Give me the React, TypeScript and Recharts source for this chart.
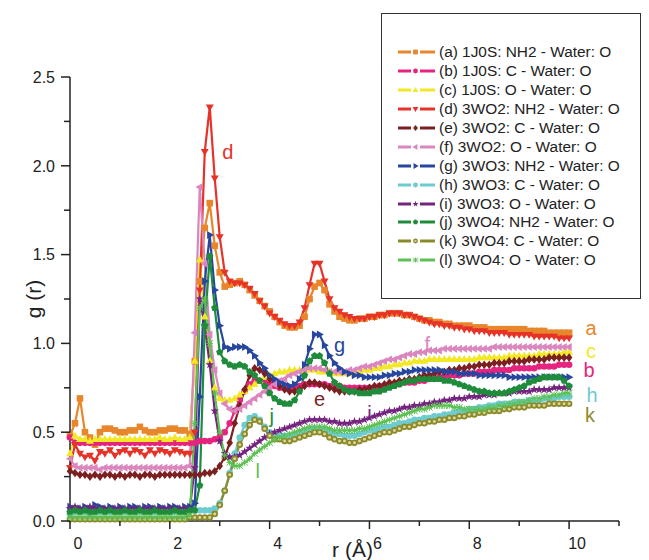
import React from "react";
import {
  Legend,
  Line,
  LineChart,
  ReferenceDot,
  XAxis,
  YAxis,
} from "recharts";

const FONT = '"Liberation Sans", Arial, sans-serif';
const INK = "#222";

// r grid, 0.0 .. 10.0 Å in 0.1 steps
const rValues = Array.from({ length: 101 }, (_, i) => Math.round(i) / 10);

const xTicks = [0, 1, 2, 3, 4, 5, 6, 7, 8, 9, 10, 11];
const yTicks = [0, 0.25, 0.5, 0.75, 1, 1.25, 1.5, 1.75, 2, 2.25, 2.5];

const a_1J0S_NH2 = [
  0.48, 0.55, 0.69, 0.5, 0.47, 0.43, 0.5, 0.52, 0.52, 0.51,
  0.5, 0.5, 0.51, 0.51, 0.53, 0.51, 0.5, 0.5, 0.51, 0.51,
  0.52, 0.52, 0.51, 0.51, 0.49, 0.9, 1.35, 1.65, 1.79, 1.55,
  1.4, 1.32, 1.33, 1.34, 1.35, 1.33, 1.3, 1.27, 1.24, 1.21,
  1.18, 1.15, 1.12, 1.1, 1.09, 1.09, 1.1, 1.15, 1.25, 1.32,
  1.34, 1.3, 1.22, 1.18, 1.15, 1.14, 1.13, 1.13, 1.14, 1.14,
  1.15, 1.15, 1.16, 1.16, 1.17, 1.17, 1.17, 1.16, 1.16, 1.15,
  1.14, 1.13, 1.13, 1.12, 1.12, 1.11, 1.11, 1.1, 1.1, 1.1,
  1.1, 1.09, 1.09, 1.09, 1.08, 1.08, 1.08, 1.08, 1.08, 1.08,
  1.08, 1.08, 1.07, 1.07, 1.07, 1.07, 1.06, 1.06, 1.06, 1.06, 1.06,
];
const b_1J0S_C = [
  0.47, 0.44, 0.44, 0.44, 0.44, 0.44, 0.44, 0.44, 0.44, 0.44,
  0.44, 0.44, 0.44, 0.44, 0.44, 0.44, 0.44, 0.44, 0.44, 0.44,
  0.44, 0.44, 0.44, 0.44, 0.44, 0.44, 0.45, 0.45, 0.45, 0.46,
  0.47, 0.5, 0.55, 0.62, 0.68, 0.73, 0.77, 0.79, 0.79, 0.78,
  0.77, 0.76, 0.75, 0.75, 0.75, 0.75, 0.76, 0.77, 0.77, 0.77,
  0.77, 0.77, 0.76, 0.76, 0.76, 0.75, 0.75, 0.75, 0.75, 0.75,
  0.75, 0.75, 0.76, 0.76, 0.76, 0.77, 0.77, 0.78, 0.78, 0.78,
  0.79, 0.79, 0.8, 0.8, 0.81, 0.81, 0.82, 0.82, 0.82, 0.83,
  0.83, 0.83, 0.84, 0.84, 0.84, 0.85, 0.85, 0.85, 0.85, 0.86,
  0.86, 0.86, 0.86, 0.86, 0.87, 0.87, 0.87, 0.87, 0.88, 0.88, 0.88,
];
const c_1J0S_O = [
  0.38, 0.48, 0.46, 0.46, 0.45, 0.46, 0.46, 0.46, 0.46, 0.46,
  0.46, 0.46, 0.46, 0.46, 0.46, 0.46, 0.46, 0.46, 0.47, 0.46,
  0.46, 0.47, 0.46, 0.46, 0.47, 0.9, 1.47, 1.15, 0.9, 0.75,
  0.69, 0.68, 0.68, 0.69, 0.71, 0.73, 0.75, 0.77, 0.79, 0.81,
  0.82, 0.83, 0.84, 0.84, 0.85, 0.85, 0.85, 0.85, 0.85, 0.85,
  0.84, 0.84, 0.84, 0.83, 0.83, 0.83, 0.83, 0.84, 0.84, 0.85,
  0.85, 0.86, 0.86, 0.87, 0.87, 0.88, 0.88, 0.89, 0.89, 0.9,
  0.9, 0.9, 0.91, 0.91, 0.91, 0.91, 0.91, 0.91, 0.91, 0.91,
  0.91, 0.91, 0.92, 0.92, 0.92, 0.92, 0.92, 0.92, 0.93, 0.93,
  0.93, 0.93, 0.93, 0.93, 0.94, 0.94, 0.94, 0.94, 0.94, 0.95, 0.95,
];
const d_3WO2_NH2 = [
  0.3, 0.43, 0.38, 0.36, 0.37, 0.34, 0.39, 0.38, 0.4, 0.37,
  0.39, 0.4, 0.38, 0.4, 0.39, 0.37, 0.4, 0.38, 0.4, 0.39,
  0.38, 0.4, 0.39, 0.38, 0.38, 0.5, 1.3, 2.08, 2.33, 1.93,
  1.6, 1.4, 1.35, 1.34, 1.34, 1.33, 1.31, 1.28, 1.24, 1.21,
  1.17, 1.15, 1.13, 1.11, 1.1, 1.1, 1.12, 1.2, 1.33, 1.45,
  1.45, 1.35, 1.25, 1.2, 1.18, 1.16, 1.15, 1.14, 1.14, 1.14,
  1.15, 1.15, 1.16, 1.16, 1.17, 1.17, 1.17, 1.16, 1.16, 1.15,
  1.14, 1.13, 1.12, 1.11, 1.11, 1.1, 1.1, 1.09, 1.09, 1.08,
  1.08, 1.07, 1.07, 1.07, 1.06, 1.06, 1.06, 1.06, 1.05, 1.05,
  1.05, 1.05, 1.05, 1.04, 1.04, 1.04, 1.04, 1.04, 1.03, 1.03, 1.03,
];
const e_3WO2_C = [
  0.28, 0.27, 0.26, 0.26, 0.25, 0.26, 0.25, 0.26, 0.26, 0.25,
  0.26, 0.25, 0.26, 0.26, 0.25, 0.26, 0.26, 0.25, 0.26, 0.26,
  0.26, 0.26, 0.26, 0.26, 0.26, 0.26, 0.26, 0.27, 0.27, 0.28,
  0.31, 0.36, 0.44, 0.55, 0.65, 0.74, 0.82, 0.86, 0.85, 0.83,
  0.8, 0.78, 0.76, 0.74, 0.73, 0.73, 0.74, 0.76, 0.78, 0.78,
  0.77, 0.76, 0.75, 0.74, 0.73, 0.73, 0.73, 0.73, 0.74, 0.74,
  0.75, 0.76, 0.76, 0.77, 0.78, 0.78, 0.79, 0.79, 0.8, 0.8,
  0.81, 0.82, 0.82, 0.83, 0.84, 0.84, 0.85, 0.85, 0.86, 0.86,
  0.87, 0.87, 0.88, 0.88, 0.88, 0.89, 0.89, 0.89, 0.9, 0.9,
  0.9, 0.9, 0.91, 0.91, 0.91, 0.91, 0.92, 0.92, 0.92, 0.92, 0.92,
];
const f_3WO2_O = [
  0.35, 0.31, 0.3, 0.3, 0.3, 0.3, 0.29, 0.3, 0.3, 0.3,
  0.3, 0.3, 0.3, 0.3, 0.3, 0.3, 0.3, 0.3, 0.3, 0.3,
  0.3, 0.3, 0.3, 0.3, 0.31, 1.06, 1.88, 1.45, 1.05, 0.85,
  0.72, 0.66, 0.63, 0.62, 0.63, 0.65, 0.67, 0.69, 0.71, 0.73,
  0.75, 0.77, 0.79, 0.8, 0.82, 0.83, 0.84, 0.85, 0.86, 0.86,
  0.86, 0.85, 0.84, 0.84, 0.84, 0.84, 0.85, 0.85, 0.86, 0.87,
  0.87, 0.88, 0.89, 0.9, 0.91, 0.91, 0.92, 0.93, 0.94, 0.94,
  0.95, 0.95, 0.96, 0.96, 0.96, 0.97, 0.97, 0.97, 0.97, 0.97,
  0.97, 0.97, 0.97, 0.97, 0.97, 0.98, 0.98, 0.98, 0.98, 0.98,
  0.98, 0.98, 0.98, 0.98, 0.98, 0.98, 0.98, 0.98, 0.98, 0.98, 0.98,
];
const g_3WO3_NH2 = [
  0.08, 0.07, 0.07, 0.08, 0.07, 0.09, 0.08, 0.07, 0.08, 0.07,
  0.08, 0.07, 0.08, 0.08, 0.07, 0.08, 0.08, 0.07, 0.08, 0.07,
  0.08, 0.08, 0.07, 0.08, 0.08, 0.1, 0.7, 1.35, 1.61, 1.3,
  1.1, 0.98, 0.97, 0.98, 0.98, 0.98, 0.96, 0.93, 0.89, 0.86,
  0.82, 0.8, 0.78, 0.77, 0.76, 0.77, 0.8, 0.88, 0.97, 1.05,
  1.05, 0.99, 0.93, 0.89, 0.86, 0.84, 0.83, 0.82, 0.82, 0.81,
  0.81, 0.81, 0.81, 0.82, 0.82, 0.83, 0.83, 0.84, 0.84, 0.85,
  0.85, 0.85, 0.85, 0.85, 0.85, 0.84, 0.84, 0.84, 0.83, 0.83,
  0.83, 0.83, 0.82, 0.82, 0.82, 0.82, 0.82, 0.82, 0.81, 0.81,
  0.81, 0.81, 0.81, 0.81, 0.81, 0.81, 0.81, 0.81, 0.81, 0.81, 0.81,
];
const h_3WO3_C = [
  0.04, 0.05, 0.06, 0.05, 0.04, 0.05, 0.05, 0.05, 0.05, 0.05,
  0.05, 0.05, 0.05, 0.05, 0.05, 0.05, 0.05, 0.05, 0.05, 0.05,
  0.05, 0.05, 0.05, 0.05, 0.06, 0.06, 0.06, 0.06, 0.06, 0.07,
  0.1, 0.17, 0.27, 0.38, 0.47, 0.54, 0.58, 0.59, 0.57, 0.53,
  0.5, 0.49, 0.48, 0.48, 0.48, 0.48, 0.49, 0.5, 0.51, 0.52,
  0.52, 0.51, 0.5, 0.49, 0.49, 0.48, 0.48, 0.48, 0.49, 0.5,
  0.51, 0.51, 0.52, 0.53, 0.53, 0.54, 0.55, 0.55, 0.56, 0.57,
  0.57, 0.58, 0.58, 0.59, 0.59, 0.6, 0.6, 0.61, 0.62, 0.62,
  0.63, 0.63, 0.64, 0.64, 0.65, 0.65, 0.66, 0.66, 0.66, 0.67,
  0.67, 0.67, 0.68, 0.68, 0.68, 0.69, 0.69, 0.69, 0.7, 0.7, 0.7,
];
const i_3WO3_O = [
  0.07, 0.08, 0.07, 0.07, 0.08, 0.07, 0.07, 0.07, 0.07, 0.07,
  0.07, 0.07, 0.07, 0.07, 0.07, 0.07, 0.07, 0.07, 0.07, 0.07,
  0.07, 0.07, 0.07, 0.07, 0.07, 0.3, 1.25, 1.1, 0.88, 0.62,
  0.45, 0.38, 0.36, 0.36, 0.37, 0.39, 0.41, 0.43, 0.45, 0.47,
  0.49, 0.5, 0.51, 0.52, 0.53, 0.54, 0.55, 0.56, 0.57, 0.57,
  0.57, 0.57, 0.56, 0.56, 0.55, 0.55, 0.55, 0.56, 0.56, 0.57,
  0.58, 0.59, 0.6, 0.61, 0.62, 0.62, 0.63, 0.64, 0.64, 0.65,
  0.65, 0.66, 0.66, 0.67, 0.67, 0.68, 0.68, 0.69, 0.69, 0.69,
  0.7, 0.7, 0.7, 0.71, 0.71, 0.71, 0.72, 0.72, 0.72, 0.73,
  0.73, 0.73, 0.73, 0.74, 0.74, 0.74, 0.74, 0.75, 0.75, 0.75, 0.75,
];
const j_3WO4_NH2 = [
  0.05, 0.06, 0.05, 0.06, 0.05, 0.05, 0.06, 0.05, 0.06, 0.05,
  0.05, 0.06, 0.05, 0.05, 0.06, 0.05, 0.05, 0.06, 0.05, 0.05,
  0.05, 0.06, 0.05, 0.05, 0.06, 0.06, 0.2, 1.1, 1.49, 1.2,
  0.95, 0.9, 0.88, 0.87, 0.88, 0.87, 0.84, 0.82, 0.79, 0.76,
  0.72, 0.69, 0.67, 0.66, 0.66, 0.68, 0.73, 0.82, 0.9, 0.93,
  0.93, 0.89, 0.83, 0.78, 0.76, 0.74, 0.73, 0.73, 0.72, 0.72,
  0.72, 0.73, 0.73, 0.74, 0.75, 0.76, 0.77, 0.78, 0.79, 0.79,
  0.8, 0.8, 0.8, 0.8, 0.8, 0.79, 0.79, 0.78, 0.77, 0.76,
  0.75, 0.74, 0.73, 0.73, 0.72, 0.72, 0.72, 0.72, 0.73, 0.74,
  0.75, 0.76, 0.78, 0.79, 0.8, 0.81, 0.81, 0.81, 0.81, 0.79, 0.76,
];
const k_3WO4_C = [
  0.01, 0.01, 0.01, 0.01, 0.01, 0.01, 0.01, 0.01, 0.01, 0.01,
  0.01, 0.01, 0.01, 0.01, 0.01, 0.01, 0.01, 0.01, 0.01, 0.01,
  0.01, 0.01, 0.01, 0.01, 0.02, 0.02, 0.02, 0.02, 0.02, 0.04,
  0.09, 0.17, 0.26, 0.35, 0.43, 0.49, 0.54, 0.57, 0.56, 0.52,
  0.48, 0.46, 0.46, 0.45, 0.45, 0.46, 0.47, 0.48, 0.49, 0.5,
  0.5, 0.49, 0.47, 0.46, 0.45, 0.45, 0.44, 0.44, 0.45, 0.46,
  0.47, 0.48, 0.49, 0.5, 0.5, 0.51, 0.52, 0.53, 0.53, 0.54,
  0.55, 0.55, 0.56, 0.56, 0.57, 0.57, 0.58, 0.58, 0.59, 0.59,
  0.6, 0.6, 0.61, 0.61, 0.62, 0.62, 0.62, 0.63, 0.63, 0.64,
  0.64, 0.64, 0.65, 0.65, 0.65, 0.65, 0.66, 0.66, 0.66, 0.66, 0.66,
];
const l_3WO4_O = [
  0.02, 0.02, 0.02, 0.02, 0.02, 0.02, 0.02, 0.02, 0.02, 0.02,
  0.02, 0.02, 0.02, 0.02, 0.02, 0.02, 0.02, 0.02, 0.02, 0.02,
  0.02, 0.02, 0.02, 0.02, 0.03, 0.55, 1.2, 1.25, 1.0, 0.72,
  0.5, 0.37, 0.33, 0.31, 0.31, 0.33, 0.35, 0.38, 0.4, 0.42,
  0.44, 0.46, 0.47, 0.48, 0.49, 0.5, 0.51, 0.52, 0.53, 0.53,
  0.53, 0.53, 0.52, 0.51, 0.51, 0.51, 0.51, 0.51, 0.52, 0.52,
  0.53, 0.54, 0.55, 0.56, 0.57, 0.58, 0.59, 0.6, 0.61, 0.62,
  0.63, 0.63, 0.64, 0.65, 0.65, 0.65, 0.65, 0.64, 0.64, 0.63,
  0.63, 0.63, 0.63, 0.63, 0.64, 0.64, 0.65, 0.65, 0.66, 0.66,
  0.67, 0.67, 0.68, 0.69, 0.69, 0.7, 0.7, 0.71, 0.71, 0.72, 0.72,
];

type Shape =
  | "square" | "circle" | "up" | "down" | "diamond" | "left"
  | "right" | "star" | "pentagon" | "ring" | "asterisk";

const SERIES: { id: string; name: string; color: string; shape: Shape; values: number[] }[] = [
  { id: "a", name: "(a) 1J0S: NH2 - Water: O", color: "#e8862b", shape: "square", values: a_1J0S_NH2 },
  { id: "b", name: "(b) 1J0S: C - Water: O", color: "#e6237e", shape: "circle", values: b_1J0S_C },
  { id: "c", name: "(c) 1J0S: O - Water: O", color: "#f2e826", shape: "up", values: c_1J0S_O },
  { id: "d", name: "(d) 3WO2: NH2 - Water: O", color: "#e63228", shape: "down", values: d_3WO2_NH2 },
  { id: "e", name: "(e) 3WO2: C - Water: O", color: "#7b1f20", shape: "diamond", values: e_3WO2_C },
  { id: "f", name: "(f) 3WO2: O - Water: O", color: "#db86be", shape: "left", values: f_3WO2_O },
  { id: "g", name: "(g) 3WO3: NH2 - Water: O", color: "#27479e", shape: "right", values: g_3WO3_NH2 },
  { id: "h", name: "(h) 3WO3: C - Water: O", color: "#6dccd0", shape: "circle", values: h_3WO3_C },
  { id: "i", name: "(i) 3WO3: O - Water: O", color: "#74237f", shape: "star", values: i_3WO3_O },
  { id: "j", name: "(j) 3WO4: NH2 - Water: O", color: "#1e8c3a", shape: "pentagon", values: j_3WO4_NH2 },
  { id: "k", name: "(k) 3WO4: C - Water: O", color: "#8c8a2a", shape: "ring", values: k_3WO4_C },
  { id: "l", name: "(l) 3WO4: O - Water: O", color: "#5dc153", shape: "asterisk", values: l_3WO4_O },
];

// curve labels placed in data coordinates
const ANNOTATIONS = [
  { text: "d", r: 3.16, g: 2.08, color: "#e63228" },
  { text: "g", r: 5.4, g: 0.99, color: "#27479e" },
  { text: "f", r: 7.16, g: 1.0, color: "#db86be" },
  { text: "e", r: 5.0, g: 0.69, color: "#7b1f20" },
  { text: "i", r: 6.0, g: 0.61, color: "#74237f" },
  { text: "j", r: 4.04, g: 0.59, color: "#1e8c3a" },
  { text: "l", r: 3.76, g: 0.28, color: "#5dc153" },
  { text: "a", r: 10.44, g: 1.09, color: "#e8862b" },
  { text: "c", r: 10.44, g: 0.96, color: "#f2e826" },
  { text: "b", r: 10.4, g: 0.85, color: "#e6237e" },
  { text: "h", r: 10.46, g: 0.71, color: "#6dccd0" },
  { text: "k", r: 10.42, g: 0.6, color: "#8c8a2a" },
];

const data = rValues.map((r, i) => {
  const row: Record<string, number> = { r };
  SERIES.forEach((s) => {
    row[s.id] = s.values[i];
  });
  return row;
});

function pts(list: number[][]) {
  return list.map((p) => p.join(",")).join(" ");
}

function Marker({ cx, cy, shape, color, s = 3.3 }: { cx?: number; cy?: number; shape: Shape; color: string; s?: number }) {
  if (cx == null || cy == null || isNaN(cx) || isNaN(cy)) return null;
  switch (shape) {
    case "square":
      return <rect x={cx - s} y={cy - s} width={2 * s} height={2 * s} fill={color} />;
    case "circle":
      return <circle cx={cx} cy={cy} r={s} fill={color} />;
    case "up":
      return <polygon points={pts([[cx, cy - s * 1.3], [cx + s * 1.2, cy + s * 0.8], [cx - s * 1.2, cy + s * 0.8]])} fill={color} />;
    case "down":
      return <polygon points={pts([[cx, cy + s * 1.3], [cx + s * 1.2, cy - s * 0.8], [cx - s * 1.2, cy - s * 0.8]])} fill={color} />;
    case "left":
      return <polygon points={pts([[cx - s * 1.3, cy], [cx + s * 0.8, cy - s * 1.2], [cx + s * 0.8, cy + s * 1.2]])} fill={color} />;
    case "right":
      return <polygon points={pts([[cx + s * 1.3, cy], [cx - s * 0.8, cy - s * 1.2], [cx - s * 0.8, cy + s * 1.2]])} fill={color} />;
    case "diamond":
      return <polygon points={pts([[cx, cy - s * 1.3], [cx + s, cy], [cx, cy + s * 1.3], [cx - s, cy]])} fill={color} />;
    case "star": {
      const p: number[][] = [];
      for (let k = 0; k < 10; k++) {
        const rad = k % 2 === 0 ? s * 1.35 : s * 0.55;
        const ang = -Math.PI / 2 + (k * Math.PI) / 5;
        p.push([cx + rad * Math.cos(ang), cy + rad * Math.sin(ang)]);
      }
      return <polygon points={pts(p)} fill={color} />;
    }
    case "pentagon": {
      const p: number[][] = [];
      for (let k = 0; k < 5; k++) {
        const ang = -Math.PI / 2 + (k * 2 * Math.PI) / 5;
        p.push([cx + s * 1.15 * Math.cos(ang), cy + s * 1.15 * Math.sin(ang)]);
      }
      return <polygon points={pts(p)} fill={color} />;
    }
    case "ring":
      return (
        <g>
          <circle cx={cx} cy={cy} r={s} fill={color} />
          <circle cx={cx} cy={cy} r={s * 0.45} fill="#d9d79a" />
        </g>
      );
    case "asterisk":
      return (
        <g stroke={color} strokeWidth={1}>
          <line x1={cx - s} y1={cy - s} x2={cx + s} y2={cy + s} />
          <line x1={cx - s} y1={cy + s} x2={cx + s} y2={cy - s} />
          <line x1={cx - s} y1={cy} x2={cx + s} y2={cy} />
          <line x1={cx} y1={cy - s} x2={cx} y2={cy + s} />
        </g>
      );
  }
  return null;
}

function YTick({ x, y, payload }: any) {
  const v = payload.value as number;
  const major = Math.abs(v * 2 - Math.round(v * 2)) < 1e-6;
  return (
    <g>
      <line x1={x - (major ? 9 : 6)} x2={x} y1={y} y2={y} stroke={INK} strokeWidth={1.5} />
      {major && (
        <text x={x - 15} y={y} dy="0.36em" textAnchor="end" fontSize={16} fill={INK} fontFamily={FONT}>
          {v.toFixed(1)}
        </text>
      )}
    </g>
  );
}

function XTick({ x, y, payload }: any) {
  const v = payload.value as number;
  const major = v % 2 === 0;
  return (
    <g>
      <line x1={x} x2={x} y1={y} y2={y + (major ? 8 : 5)} stroke={INK} strokeWidth={1.5} />
      {major && v <= 10 && (
        <text x={x + 8} y={y + 22} dy="0.36em" textAnchor="middle" fontSize={16} fill={INK} fontFamily={FONT}>
          {v}
        </text>
      )}
    </g>
  );
}

function LegendBox() {
  return (
    <div
      style={{
        width: "100%",
        height: "100%",
        boxSizing: "border-box",
        border: "1.5px solid #333",
        background: "#fff",
        paddingTop: 29,
        fontFamily: FONT,
      }}
    >
      {SERIES.map((s) => (
        <div key={s.id} style={{ display: "flex", alignItems: "center", height: 18.9 }}>
          <svg width={38} height={12} style={{ marginLeft: 16, flex: "none" }}>
            <line x1={0} y1={6} x2={13} y2={6} stroke={s.color} strokeWidth={3} />
            <line x1={22} y1={6} x2={37} y2={6} stroke={s.color} strokeWidth={3} />
            <Marker cx={17.5} cy={6} shape={s.shape} color={s.color} s={2.4} />
          </svg>
          <span style={{ marginLeft: 3, fontSize: 15.4, color: INK, whiteSpace: "nowrap" }}>{s.name}</span>
        </div>
      ))}
    </div>
  );
}

export default function App() {
  return (
    <div style={{ position: "absolute", left: 0, top: 0, width: 649, height: 560, background: "#fff", fontFamily: FONT }}>
      <LineChart
        width={649}
        height={560}
        data={data}
        margin={{ top: 77, right: 30, bottom: 9, left: 20 }}
      >
        <XAxis
          type="number"
          dataKey="r"
          domain={[0, 11]}
          ticks={xTicks}
          interval={0}
          tickSize={0}
          tickMargin={0}
          tickLine={false}
          axisLine={{ stroke: INK, strokeWidth: 1.5 }}
          tick={<XTick />}
          height={30}
          label={{
            content: (p: any) => (
              <text
                x={p.viewBox.x + p.viewBox.width / 2 + 8}
                y={p.viewBox.y + 36}
                textAnchor="middle"
                fontSize={21}
                fill={INK}
                fontFamily={FONT}
              >
                r (Å)
              </text>
            ),
          }}
        />
        <YAxis
          type="number"
          domain={[0, 2.5]}
          ticks={yTicks}
          interval={0}
          tickSize={0}
          tickMargin={0}
          tickLine={false}
          axisLine={{ stroke: INK, strokeWidth: 1.5 }}
          tick={<YTick />}
          width={50}
          label={{
            content: (p: any) => {
              const cx = p.viewBox.x + 13;
              const cy = p.viewBox.y + p.viewBox.height / 2;
              return (
                <text
                  x={cx}
                  y={cy}
                  transform={`rotate(-90 ${cx} ${cy})`}
                  textAnchor="middle"
                  dy="0.36em"
                  fontSize={21}
                  fill={INK}
                  fontFamily={FONT}
                >
                  g (r)
                </text>
              );
            },
          }}
        />
        {SERIES.map((s) => (
          <Line
            key={s.id}
            type="linear"
            dataKey={s.id}
            name={s.name}
            stroke={s.color}
            strokeWidth={2.2}
            isAnimationActive={false}
            activeDot={false}
            legendType="none"
            dot={(p: any) => (
              <Marker key={`${s.id}-${p.index}`} cx={p.cx} cy={p.cy} shape={s.shape} color={s.color} />
            )}
          />
        ))}
        {ANNOTATIONS.map((t) => (
          <ReferenceDot
            key={t.text}
            x={t.r}
            y={t.g}
            r={0}
            shape={(p: any) => (
              <text
                x={p.cx}
                y={p.cy}
                dy="0.36em"
                textAnchor="middle"
                fontSize={20}
                fill={t.color}
                fontFamily={FONT}
              >
                {t.text}
              </text>
            )}
          />
        ))}
        <Legend
          layout="vertical"
          align="center"
          verticalAlign="middle"
          wrapperStyle={{ left: 381, top: 13, width: 260, height: 286 }}
          content={() => <LegendBox />}
        />
      </LineChart>
    </div>
  );
}
